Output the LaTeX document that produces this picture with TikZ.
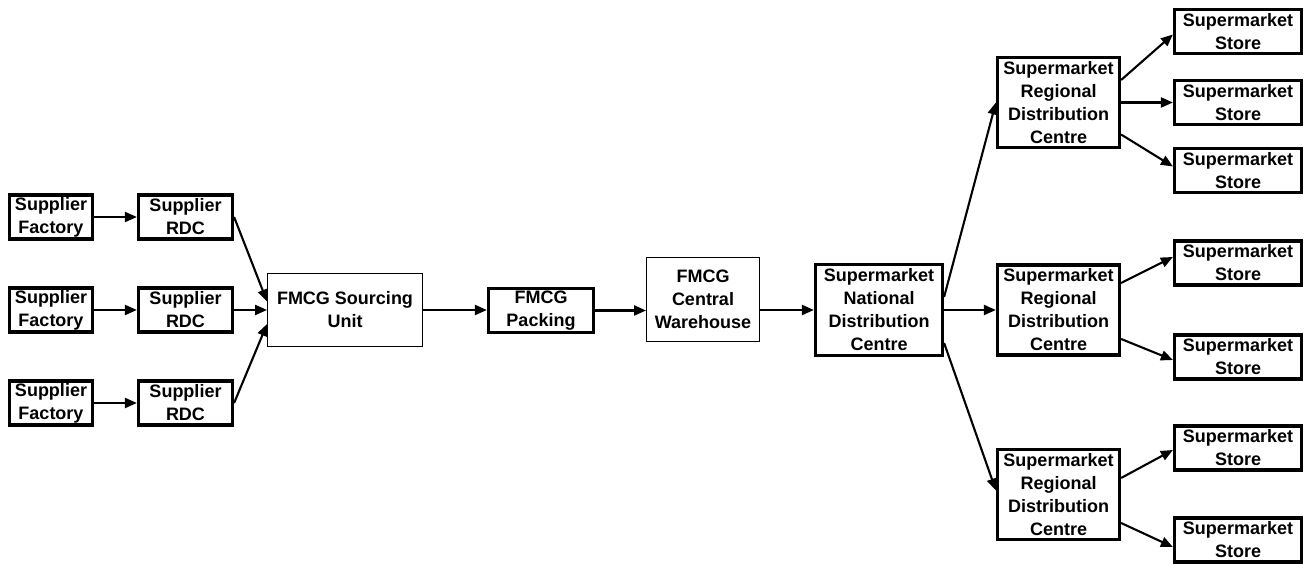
\documentclass[tikz,border=0pt]{standalone}
\usepackage{fontspec}
\setmainfont{Liberation Sans}
\usetikzlibrary{positioning,arrows.meta}

\begin{document}
\begin{tikzpicture}[x=0.5pt,y=-0.5pt,on grid,
   box/.style={draw,line width=1.6pt,align=center,inner sep=0pt,
     minimum height=22pt,font=\bfseries\fontsize{9}{11.5}\selectfont},
   thinbox/.style={box,line width=0.65pt},
   store/.style={box,minimum width=63.5pt},
   rdc/.style={box,minimum width=61pt,minimum height=45pt},
   flow/.style={-{Triangle[length=6pt,width=5pt]},line width=1.05pt}]
   \useasboundingbox (0,0) rectangle (1311,565);

   \node[box,minimum width=41.5pt] (fac2) at (51,310) {Supplier\\Factory};
   \node[box,minimum width=41.5pt] (fac1) [above=46.5pt of fac2] {Supplier\\Factory};
   \node[box,minimum width=41.5pt] (fac3) [below=46.5pt of fac2] {Supplier\\Factory};
   \foreach \i in {1,2,3}
     \node[box,minimum width=47pt] (sup\i) [right=67.25pt of fac\i] {Supplier\\RDC};

   \node[thinbox,minimum width=77.3pt,minimum height=36.8pt] (src) at (345,310) {FMCG Sourcing\\Unit};
   \node[box,minimum width=52.5pt] (pack) at (541,310.5) {FMCG\\Packing};
   \node[thinbox,minimum width=56.3pt,minimum height=41.8pt] (ware) at (703,299.5) {FMCG\\Central\\Warehouse};
   \node[box,minimum width=63.5pt,minimum height=45.5pt] (nat) at (879,310) {Supermarket\\National\\Distribution\\Centre};

   \node[rdc] (reg2) at (1058.5,310) {Supermarket\\Regional\\Distribution\\Centre};
   \node[rdc] (reg1) [above=103.75pt of reg2] {Supermarket\\Regional\\Distribution\\Centre};
   \node[rdc] (reg3) [below=92.25pt of reg2] {Supermarket\\Regional\\Distribution\\Centre};

   \node[store] (st2) [right=89.75pt of reg1] {Supermarket\\Store};
   \node[store] (st1) [above=35.5pt of st2] {Supermarket\\Store};
   \node[store] (st3) [below=34pt of st2] {Supermarket\\Store};
   \node[store] (st4) [above right=23.5pt and 89.75pt of reg2] {Supermarket\\Store};
   \node[store] (st5) [below right=23.5pt and 89.75pt of reg2] {Supermarket\\Store};
   \node[store] (st6) [above right=23.25pt and 89.75pt of reg3] {Supermarket\\Store};
   \node[store] (st7) [below right=22.75pt and 89.75pt of reg3] {Supermarket\\Store};

   \foreach \i in {1,2,3}
     \draw[flow] (fac\i.east) -- (sup\i.west);
   \draw[flow] (sup1.east) -- ([yshift=4.25pt]src.west);
   \draw[flow] (sup2.east) -- (src.west);
   \draw[flow] (sup3.east) -- ([yshift=-7pt]src.west);
   \draw[flow] (src.east) -- (src.east -| pack.west);
   \draw[flow] (pack.east) -- (pack.east -| ware.west);
   \draw[flow] (nat.west -| ware.east) -- (nat.west);

   \draw[flow] ([yshift=6.5pt]nat.east) -- (reg1.west);
   \draw[flow] (nat.east) -- (reg2.west);
   \draw[flow] ([yshift=-16.5pt]nat.east) -- ([yshift=2pt]reg3.west);

   \draw[flow] ([yshift=11.25pt]reg1.east) -- ([yshift=-1.5pt]st1.west);
   \draw[flow] (reg1.east) -- (st2.west);
   \draw[flow] ([yshift=-16pt]reg1.east) -- ([yshift=2pt]st3.west);
   \draw[flow] ([yshift=13.5pt]reg2.east) -- ([yshift=3pt]st4.west);
   \draw[flow] ([yshift=-14.5pt]reg2.east) -- ([yshift=-1.5pt]st5.west);
   \draw[flow] ([yshift=8.25pt]reg3.east) -- ([yshift=-1pt]st6.west);
   \draw[flow] ([yshift=-14.25pt]reg3.east) -- ([yshift=-3.5pt]st7.west);
\end{tikzpicture}
\end{document}
